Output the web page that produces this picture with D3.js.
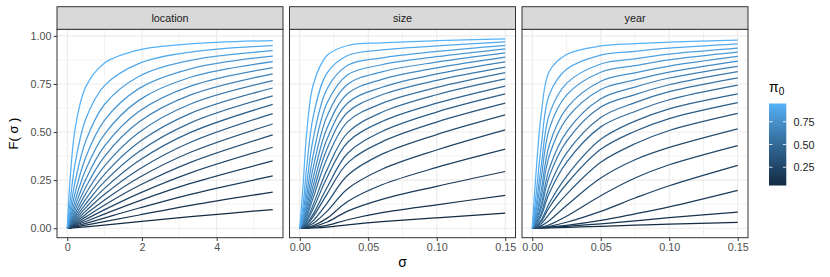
<!DOCTYPE html>
<html>
<head>
<meta charset="utf-8">
<script src="https://cdn.jsdelivr.net/npm/d3@7"></script>
<style>
  body { margin: 0; background: #fff; }
  text { font-family: "Liberation Sans", Arial, sans-serif; }
</style>
</head>
<body>
<div id="chart"></div>
<script>
// Data
const pi0 = [0.05, 0.10, 0.15, 0.20, 0.25, 0.30, 0.35, 0.40, 0.45, 0.50,
  0.55, 0.60, 0.65, 0.70, 0.75, 0.80, 0.85, 0.90, 0.95]

const facetNames = ["location", "size", "year"]

const sigmaLocation = [0, 0.0825, 0.22, 0.495, 0.99, 1.925, 3.3, 5.5]
const sigmaSize = [0, 0.0025, 0.005, 0.01, 0.02, 0.035, 0.06, 0.1, 0.15]
const sigmaYear = [0, 0.003, 0.0065, 0.0125, 0.025, 0.05, 0.075, 0.1, 0.15]

// one row per pi0 value (same order as pi0)
const fLocation = [
  [0, .001, .003, .0076, .0164, .0338, .060, .097],
  [0, .0022, .0065, .016, .034, .0688, .119, .188],
  [0, .0035, .0103, .0251, .053, .1051, .1765, .272],
  [0, .0049, .0145, .0352, .0734, .1426, .2328, .350],
  [0, .0065, .0193, .0464, .0956, .1815, .2881, .421],
  [0, .0084, .0247, .0589, .1196, .2218, .3422, .485],
  [0, .0105, .031, .073, .146, .264, .395, .542],
  [0, .013, .038, .089, .175, .307, .447, .596],
  [0, .016, .046, .107, .206, .352, .498, .644],
  [0, .019, .056, .127, .241, .399, .548, .688],
  [0, .024, .067, .151, .279, .448, .597, .729],
  [0, .029, .081, .180, .322, .499, .646, .767],
  [0, .035, .099, .213, .371, .553, .693, .803],
  [0, .044, .121, .254, .425, .608, .739, .835],
  [0, .056, .150, .305, .487, .666, .785, .866],
  [0, .073, .191, .369, .559, .727, .829, .895],
  [0, .100, .251, .453, .642, .790, .873, .923],
  [0, .150, .347, .568, .740, .857, .916, .950],
  [0, .272, .529, .735, .858, .927, .958, .976]
]

const fSize = [
  [0, .0001, .0004, .0016, .0061, .018, .034, .054, .079],
  [0, .0003, .001, .0038, .0145, .044, .081, .122, .171],
  [0, .0007, .0023, .0085, .0322, .089, .150, .218, .295],
  [0, .0011, .0039, .0141, .0526, .139, .226, .316, .411],
  [0, .0021, .0073, .0256, .0887, .2048, .3064, .4067, .511],
  [0, .0036, .012, .041, .131, .275, .385, .487, .589],
  [0, .0059, .0192, .062, .179, .340, .449, .552, .650],
  [0, .0073, .0237, .076, .213, .390, .503, .604, .698],
  [0, .011, .035, .104, .265, .447, .555, .650, .739],
  [0, .013, .042, .125, .306, .497, .603, .694, .776],
  [0, .019, .058, .162, .365, .554, .649, .732, .809],
  [0, .023, .071, .192, .414, .603, .694, .769, .838],
  [0, .028, .086, .227, .465, .651, .733, .802, .865],
  [0, .035, .106, .269, .522, .700, .774, .834, .890],
  [0, .045, .132, .322, .584, .749, .813, .864, .912],
  [0, .059, .168, .387, .652, .798, .850, .892, .933],
  [0, .082, .223, .472, .726, .847, .886, .919, .951],
  [0, .124, .313, .587, .808, .898, .927, .948, .969],
  [0, .230, .490, .750, .899, .950, .964, .975, .985]
]

const fYear = [
  [0, .0005, .001, .002, .005, .010, .016, .021, .031],
  [0, .001, .002, .004, .010, .023, .038, .055, .084],
  [0, .001, .003, .006, .015, .041, .075, .111, .197],
  [0, .0015, .004, .010, .031, .088, .157, .221, .327],
  [0, .002, .006, .018, .062, .169, .261, .330, .430],
  [0, .004, .012, .040, .118, .261, .356, .420, .517],
  [0, .0067, .0226, .075, .176, .343, .439, .508, .597],
  [0, .0104, .034, .109, .230, .410, .504, .570, .653],
  [0, .0127, .042, .131, .270, .462, .557, .621, .699],
  [0, .020, .064, .183, .342, .527, .607, .668, .744],
  [0, .025, .077, .216, .390, .576, .653, .710, .782],
  [0, .034, .104, .271, .451, .630, .695, .746, .814],
  [0, .041, .124, .312, .500, .673, .734, .781, .842],
  [0, .057, .162, .379, .568, .721, .771, .812, .869],
  [0, .070, .196, .434, .623, .764, .808, .843, .893],
  [0, .098, .259, .518, .692, .811, .845, .875, .915],
  [0, .128, .321, .593, .753, .854, .880, .905, .936],
  [0, .187, .425, .695, .826, .900, .920, .936, .958],
  [0, .310, .591, .816, .9035, .9475, .9595, .967, .978]
]

const yTicks = [0, 0.25, 0.5, 0.75, 1]
const xTicksLocation = [0, 2, 4]
const xTicksSmall = [0, 0.05, 0.1, 0.15]
const legendTicks = [0.25, 0.5, 0.75]

function draw() {
  // Dimensions
  const dimensions = {
    width: 830,
    height: 277,
    panelTop: 29.3,
    panelBottom: 237.7,
    left: 57,
    panelWidth: 226,
    gap: 6.5,
    stripHeight: 22.6,
  }

  const panels = [
    { name: facetNames[0], sigma: sigmaLocation, f: fLocation, ticks: xTicksLocation, minor: [1, 3, 5], fmt: d3.format("d") },
    { name: facetNames[1], sigma: sigmaSize, f: fSize, ticks: xTicksSmall, minor: [0.025, 0.075, 0.125], fmt: d3.format(".2f") },
    { name: facetNames[2], sigma: sigmaYear, f: fYear, ticks: xTicksSmall, minor: [0.025, 0.075, 0.125], fmt: d3.format(".2f") },
  ]

  const svg = d3.select("#chart")
    .append("svg")
    .attr("width", dimensions.width)
    .attr("height", dimensions.height)

  // Scales
  const yMax = d3.max([fLocation, fSize, fYear].flat(2))
  const yPad = yMax * 0.05
  const yScale = d3.scaleLinear()
    .domain([-yPad, yMax + yPad])
    .range([dimensions.panelBottom, dimensions.panelTop])

  const colorScale = d3.scaleSequential()
    .domain(d3.extent(pi0))
    .interpolator(d3.interpolateLab("#132B43", "#56B1F7"))

  const ph = dimensions.panelBottom - dimensions.panelTop

  panels.forEach((p, i) => {
    const x0 = dimensions.left + i * (dimensions.panelWidth + dimensions.gap)
    const xMax = d3.max(p.sigma)
    const xScale = d3.scaleLinear()
      .domain([-xMax * 0.05, xMax * 1.05])
      .range([x0, x0 + dimensions.panelWidth])

    const g = svg.append("g")

    g.append("rect")
      .attr("x", x0).attr("y", dimensions.panelTop)
      .attr("width", dimensions.panelWidth).attr("height", ph)
      .attr("fill", "#fff")

    // grid
    const minorY = [0.125, 0.375, 0.625, 0.875]
    g.selectAll(".ymin").data(minorY).join("line")
      .attr("x1", x0).attr("x2", x0 + dimensions.panelWidth)
      .attr("y1", d => yScale(d)).attr("y2", d => yScale(d))
      .attr("stroke", "#EBEBEB").attr("stroke-width", 0.6)
    g.selectAll(".xmin").data(p.minor).join("line")
      .attr("y1", dimensions.panelTop).attr("y2", dimensions.panelBottom)
      .attr("x1", d => xScale(d)).attr("x2", d => xScale(d))
      .attr("stroke", "#EBEBEB").attr("stroke-width", 0.6)
    g.selectAll(".ymaj").data(yTicks).join("line")
      .attr("x1", x0).attr("x2", x0 + dimensions.panelWidth)
      .attr("y1", d => yScale(d)).attr("y2", d => yScale(d))
      .attr("stroke", "#EBEBEB").attr("stroke-width", 1.1)
    g.selectAll(".xmaj").data(p.ticks).join("line")
      .attr("y1", dimensions.panelTop).attr("y2", dimensions.panelBottom)
      .attr("x1", d => xScale(d)).attr("x2", d => xScale(d))
      .attr("stroke", "#EBEBEB").attr("stroke-width", 1.1)

    // curves
    const lineGenerator = d3.line()
      .x((d, j) => xScale(p.sigma[j]))
      .y(d => yScale(d))
      .curve(d3.curveCatmullRom.alpha(0.5))

    g.selectAll(".curve").data(p.f).join("path")
      .attr("d", d => lineGenerator(d))
      .attr("fill", "none")
      .attr("stroke", (d, j) => colorScale(pi0[j]))
      .attr("stroke-width", 1.25)

    // border
    g.append("rect")
      .attr("x", x0).attr("y", dimensions.panelTop)
      .attr("width", dimensions.panelWidth).attr("height", ph)
      .attr("fill", "none").attr("stroke", "#333333").attr("stroke-width", 1)

    // strip
    g.append("rect")
      .attr("x", x0).attr("y", dimensions.panelTop - dimensions.stripHeight)
      .attr("width", dimensions.panelWidth).attr("height", dimensions.stripHeight)
      .attr("fill", "#D9D9D9").attr("stroke", "#333333").attr("stroke-width", 1)
    g.append("text")
      .attr("x", x0 + dimensions.panelWidth / 2)
      .attr("y", dimensions.panelTop - dimensions.stripHeight / 2)
      .attr("text-anchor", "middle")
      .attr("dominant-baseline", "central")
      .attr("font-size", 10.8)
      .attr("fill", "#1A1A1A")
      .text(p.name)

    // x axis
    const xAxis = d3.axisBottom(xScale)
      .tickValues(p.ticks)
      .tickFormat(p.fmt)
      .tickSize(3.3)
      .tickPadding(2)
    const xg = svg.append("g")
      .attr("transform", `translate(0, ${dimensions.panelBottom})`)
      .call(xAxis)
    xg.select(".domain").remove()
    xg.selectAll("line").attr("stroke", "#333333")
    xg.selectAll("text").attr("fill", "#4D4D4D").attr("font-size", 10.8)
      .attr("font-family", "Liberation Sans, Arial, sans-serif")

    if (i === 0) {
      const yAxis = d3.axisLeft(yScale)
        .tickValues(yTicks)
        .tickFormat(d3.format(".2f"))
        .tickSize(3.3)
        .tickPadding(2.2)
      const yg = svg.append("g")
        .attr("transform", `translate(${x0}, 0)`)
        .call(yAxis)
      yg.select(".domain").remove()
      yg.selectAll("line").attr("stroke", "#333333")
      yg.selectAll("text").attr("fill", "#4D4D4D").attr("font-size", 10.8)
        .attr("font-family", "Liberation Sans, Arial, sans-serif")
    }
  })

  // axis titles
  const plotRight = dimensions.left + 3 * dimensions.panelWidth + 2 * dimensions.gap
  svg.append("text")
    .attr("x", (dimensions.left + plotRight) / 2)
    .attr("y", 267)
    .attr("text-anchor", "middle")
    .attr("font-size", 14)
    .attr("font-family", "Liberation Serif, serif")
    .text("σ")

  svg.append("text")
    .attr("transform", `translate(18, ${(dimensions.panelTop + dimensions.panelBottom) / 2}) rotate(-90)`)
    .attr("text-anchor", "middle")
    .attr("font-size", 13)
    .text("F( σ )")

  // Legend
  const legendScale = d3.scaleLinear()
    .domain(d3.extent(pi0))
    .range([185.5, 103.5])
  const barX = 769
  const barW = 17.3

  const grad = svg.append("defs").append("linearGradient")
    .attr("id", "pi-grad")
    .attr("x1", 0).attr("y1", 1).attr("x2", 0).attr("y2", 0)
  d3.range(0, 1.0001, 0.05).forEach(t => {
    grad.append("stop")
      .attr("offset", t)
      .attr("stop-color", colorScale(pi0[0] + t * (pi0[pi0.length - 1] - pi0[0])))
  })

  svg.append("rect")
    .attr("x", barX).attr("y", legendScale(pi0[pi0.length - 1]))
    .attr("width", barW)
    .attr("height", legendScale(pi0[0]) - legendScale(pi0[pi0.length - 1]))
    .attr("fill", "url(#pi-grad)")

  const lt = svg.append("g")
  lt.selectAll(".tl").data(legendTicks).join("line")
    .attr("x1", barX).attr("x2", barX + barW / 5)
    .attr("y1", d => legendScale(d)).attr("y2", d => legendScale(d))
    .attr("stroke", "#fff").attr("stroke-width", 0.8)
  lt.selectAll(".tr").data(legendTicks).join("line")
    .attr("x1", barX + barW * 4 / 5).attr("x2", barX + barW)
    .attr("y1", d => legendScale(d)).attr("y2", d => legendScale(d))
    .attr("stroke", "#fff").attr("stroke-width", 0.8)
  lt.selectAll("text").data(legendTicks).join("text")
    .attr("x", 793.5)
    .attr("y", d => legendScale(d))
    .attr("dominant-baseline", "central")
    .attr("font-size", 10.8)
    .attr("fill", "#1A1A1A")
    .text(d3.format(".2f"))

  const title = svg.append("text")
    .attr("x", 769)
    .attr("y", 92)
    .attr("font-size", 14)
    .attr("font-family", "Liberation Serif, serif")
  title.append("tspan").text("π")
  title.append("tspan").attr("font-size", 10).attr("dy", 3).text("0")
}

draw()
</script>
</body>
</html>
